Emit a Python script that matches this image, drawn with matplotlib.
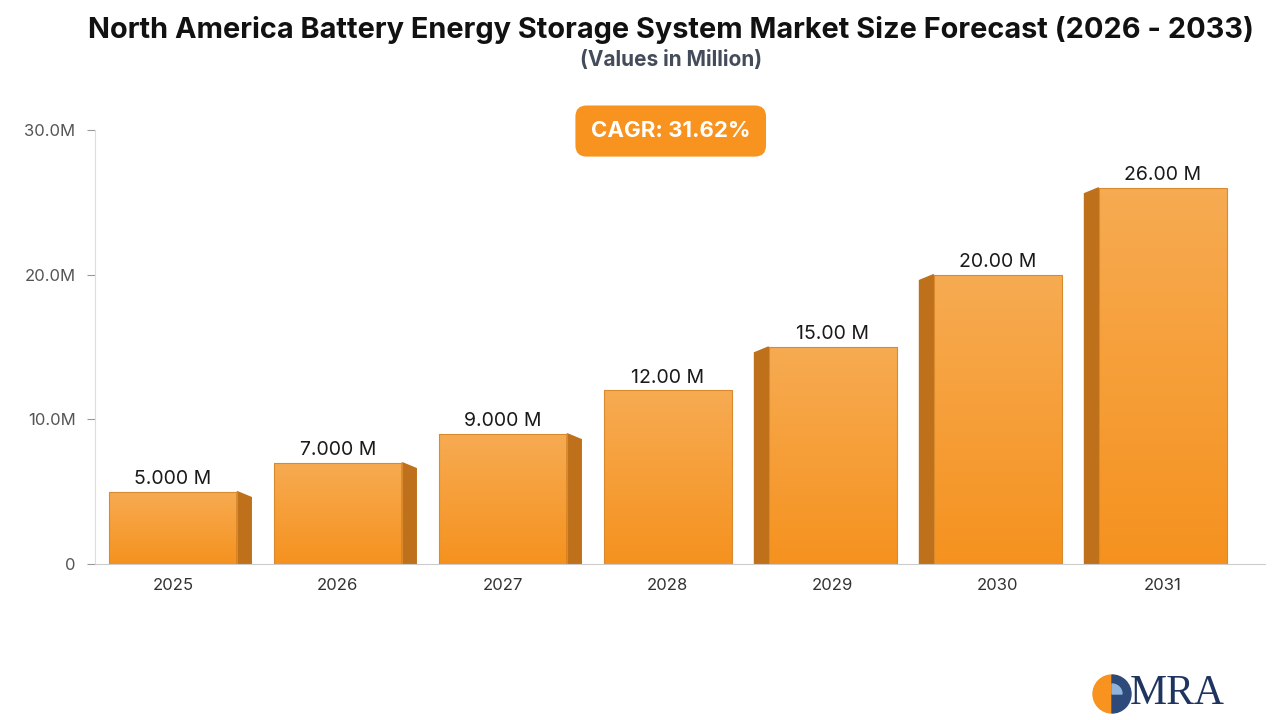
import numpy as np
import matplotlib.pyplot as plt
from matplotlib.patches import Polygon, Wedge
from matplotlib.colors import LinearSegmentedColormap

# Donnees
years = ["2025", "2026", "2027", "2028", "2029", "2030", "2031"]
values = [5.0, 7.0, 9.0, 12.0, 15.0, 20.0, 26.0]
labels = ["5.000 M", "7.000 M", "9.000 M", "12.00 M", "15.00 M", "20.00 M", "26.00 M"]
yticks = [0, 10, 20, 30]
ytick_labels = ["0", "10.0M", "20.0M", "30.0M"]

plt.rcParams['font.family'] = ['Inter', 'DejaVu Sans']

fig = plt.figure(figsize=(12.8, 7.2), dpi=100)
ax = fig.add_axes([95/1280, 156/720, 1170/1280, 434/720])
ax.set_xlim(-0.472, 6.619)
ax.set_ylim(0, 30)

cmap = LinearSegmentedColormap.from_list("o", ["#F7AB52", "#F5921F"])
grad = np.linspace(0, 1, 256).reshape(-1, 1)
w = 0.78
d = 0.085
for i, v in enumerate(values):
    x0, x1 = i - w/2, i + w/2
    # face avant en degrade (clair en haut)
    im = ax.imshow(grad, extent=[x0, x1, 0, v], aspect="auto", cmap=cmap,
                   origin="upper", zorder=2)
    face = Polygon([(x0, 0), (x0, v), (x1, v), (x1, 0)], closed=True,
                   fill=False, edgecolor="#D98A2E", lw=0.8, zorder=3)
    ax.add_patch(face)
    im.set_clip_path(face)
    # cote
    if i < 3:
        side = [(x1, 0), (x1, v), (x1 + d, v - 0.4), (x1 + d, 0)]
    elif i > 3:
        side = [(x0, 0), (x0, v), (x0 - d, v - 0.4), (x0 - d, 0)]
    else:
        side = None
    if side:
        ax.add_patch(Polygon(side, closed=True, color="#BE701B", zorder=2))
    ax.text(i, v + 0.25, labels[i], ha="center", va="bottom", fontsize=14, color="#1a1a1a")

ax.set_xticks(range(len(years)))
ax.set_xticklabels(years, fontsize=12, color="#333333")
ax.set_yticks(yticks)
ax.set_yticklabels(ytick_labels, fontsize=12, color="#555555")
ax.tick_params(axis="x", length=0, pad=10)
ax.tick_params(axis="y", length=6, color="#999999", pad=8)
for s in ["top", "right"]:
    ax.spines[s].set_visible(False)
ax.spines["left"].set_color("#dddddd")
ax.spines["bottom"].set_color("#cccccc")

fig.text(0.524, 0.978, "North America Battery Energy Storage System Market Size Forecast (2026 - 2033)",
         ha="center", va="top", fontsize=20.8, fontweight="bold", color="#111111")
fig.text(0.524, 0.93, "(Values in Million)", ha="center", va="top", fontsize=15,
         fontweight="bold", color="#444c5c")
fig.text(0.524, 0.818, "CAGR: 31.62%", ha="center", va="center", fontsize=16,
         fontweight="bold", color="white",
         bbox=dict(boxstyle="round,pad=0.7,rounding_size=0.5", fc="#F7931E", ec="none"))

# logo
lax = fig.add_axes([1092/1280, 6/720, 40/1280, 40/720])
lax.set_xlim(-1, 1); lax.set_ylim(-1, 1); lax.set_aspect("equal"); lax.axis("off")
lax.add_patch(Wedge((0, 0), 0.95, 90, 270, color="#F7931E"))
lax.add_patch(Wedge((0, 0), 0.95, -90, 90, color="#2E4A7A"))
lax.add_patch(Wedge((0, 0), 0.5, 0, 90, color="#8FB3D9"))
fig.text(1130/1280, 26/720, "MRA", ha="left", va="center", fontsize=30,
         family="Liberation Serif", color="#1F3560")

fig.savefig("out.png", dpi=100)
